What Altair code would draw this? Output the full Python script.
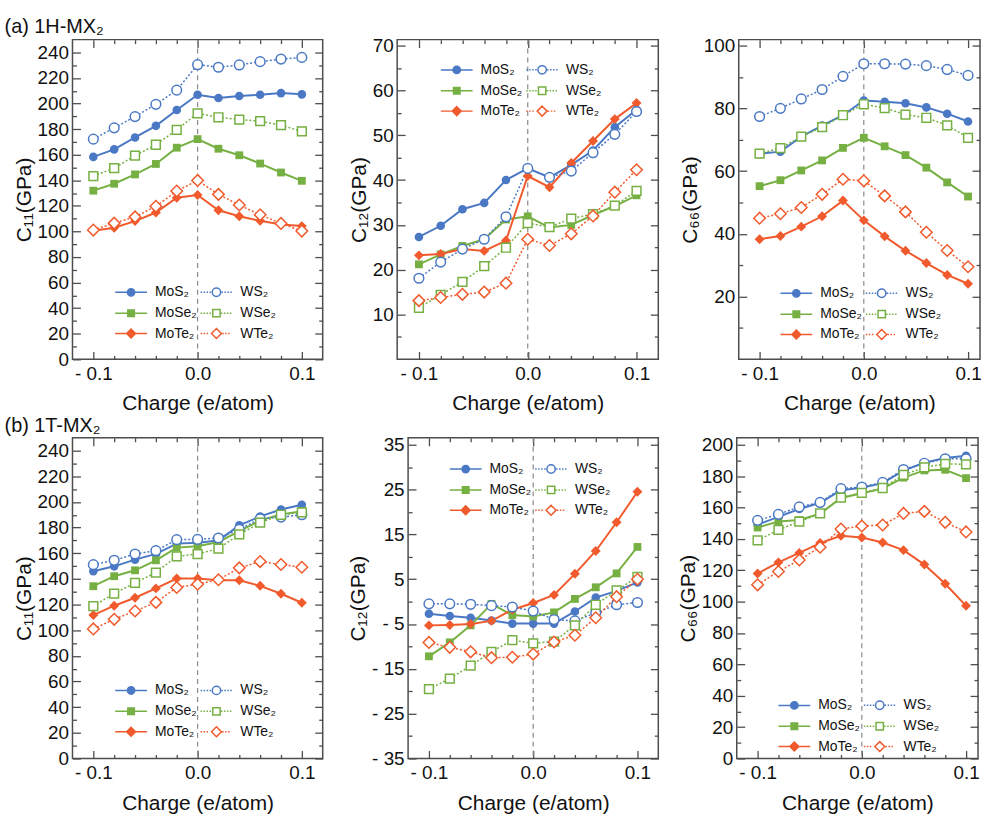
import altair as alt
import pandas as pd

X = [-0.1, -0.08, -0.06, -0.04, -0.02, 0.0, 0.02, 0.04, 0.06, 0.08, 0.1]
X_MAJOR = [-0.1, 0.0, 0.1]
X_MINOR = [-0.08, -0.06, -0.04, -0.02, 0.02, 0.04, 0.06, 0.08]
SERIES = ["MoS2", "WS2", "MoSe2", "WSe2", "MoTe2", "WTe2"]
LABELS = ["MoS₂", "WS₂", "MoSe₂", "WSe₂", "MoTe₂", "WTe₂"]

# (a) 1H-MX2, C11
H11_MoS2 = [158.3, 164.2, 173.5, 182.6, 195.0, 206.9, 204.3, 205.9, 206.9, 208.2, 207.2]
H11_WS2 = [172.2, 181.0, 189.8, 199.4, 210.5, 230.4, 228.4, 230.2, 232.8, 234.8, 236.1]
H11_MoSe2 = [131.9, 137.3, 144.6, 152.8, 165.5, 172.2, 164.7, 159.6, 153.1, 146.1, 139.6]
H11_WSe2 = [143.3, 149.5, 159.3, 167.8, 179.5, 192.4, 189.3, 187.5, 186.2, 183.1, 178.2]
H11_MoTe2 = [100.6, 102.9, 108.1, 114.8, 126.4, 128.5, 116.6, 111.9, 108.3, 105.5, 104.2]
H11_WTe2 = [101.1, 106.5, 111.4, 119.7, 131.6, 139.9, 129.0, 120.7, 113.0, 106.3, 100.3]

# (a) 1H-MX2, C12
H12_MoS2 = [27.3, 29.8, 33.5, 34.9, 40.0, 42.6, 40.6, 43.4, 46.6, 51.8, 55.7]
H12_WS2 = [18.1, 21.7, 24.6, 26.8, 31.8, 42.6, 40.6, 42.0, 46.1, 50.2, 55.3]
H12_MoSe2 = [21.2, 23.4, 25.3, 26.8, 31.2, 31.9, 29.4, 30.0, 32.2, 34.2, 36.6]
H12_WSe2 = [11.5, 14.4, 17.3, 20.8, 24.9, 30.4, 29.5, 31.4, 32.4, 34.3, 37.6]
H12_MoTe2 = [23.2, 23.5, 24.6, 24.2, 26.5, 40.9, 38.4, 43.8, 48.7, 53.6, 57.2]
H12_WTe2 = [13.1, 13.8, 14.5, 15.0, 17.0, 26.8, 25.4, 28.0, 32.0, 37.3, 42.3]

# (a) 1H-MX2, C66
H66_MoS2 = [65.5, 66.2, 71.0, 74.5, 77.8, 82.5, 82.1, 81.6, 80.3, 78.3, 75.8]
H66_WS2 = [77.4, 80.0, 83.0, 86.0, 90.2, 94.2, 94.2, 94.1, 93.6, 92.4, 90.5]
H66_MoSe2 = [55.2, 57.1, 60.2, 63.4, 67.4, 70.6, 67.9, 65.1, 61.1, 56.4, 51.9]
H66_WSe2 = [65.6, 67.3, 71.0, 74.0, 77.8, 81.3, 80.1, 78.0, 77.0, 74.6, 70.6]
H66_MoTe2 = [38.3, 39.3, 42.3, 45.6, 50.6, 44.3, 39.2, 34.6, 30.7, 26.9, 24.1]
H66_WTe2 = [45.0, 46.4, 48.4, 52.6, 57.4, 56.9, 52.1, 47.0, 40.5, 34.7, 29.5]

# (b) 1T-MX2, C11
T11_MoS2 = [146.0, 149.8, 155.0, 159.5, 167.5, 168.2, 170.0, 181.7, 188.7, 194.1, 197.8]
T11_WS2 = [151.1, 154.5, 159.4, 162.0, 170.6, 170.8, 171.9, 178.6, 186.9, 188.2, 190.0]
T11_MoSe2 = [134.3, 142.1, 146.7, 154.5, 164.4, 165.4, 168.8, 177.3, 185.6, 190.3, 192.8]
T11_WSe2 = [118.8, 128.6, 136.9, 144.9, 157.6, 159.4, 163.6, 174.7, 183.8, 190.0, 191.8]
T11_MoTe2 = [111.8, 119.1, 125.3, 132.6, 140.3, 140.3, 139.0, 139.0, 134.6, 128.4, 121.4]
T11_WTe2 = [101.0, 108.5, 115.0, 121.7, 133.3, 135.9, 139.3, 148.6, 153.5, 151.2, 149.1]

# (b) 1T-MX2, C12
T12_MoS2 = [-2.7, -3.2, -3.6, -4.2, -4.9, -4.9, -4.9, -2.2, 0.9, 2.4, 4.3]
T12_WS2 = [-0.5, -0.5, -0.6, -0.9, -1.2, -2.1, -4.0, -4.3, -2.5, -0.7, -0.2]
T12_MoSe2 = [-12.2, -9.1, -5.3, -0.5, -3.0, -3.3, -2.4, 0.6, 3.2, 6.3, 12.2]
T12_WSe2 = [-19.5, -17.2, -14.3, -11.2, -8.6, -9.3, -8.9, -5.3, -0.7, 2.5, 5.5]
T12_MoTe2 = [-5.3, -5.2, -5.0, -4.3, -1.8, -0.3, 1.5, 6.2, 11.3, 17.7, 24.5]
T12_WTe2 = [-9.1, -10.2, -11.2, -12.5, -12.4, -11.7, -9.0, -7.5, -3.6, 1.1, 5.0]

# (b) 1T-MX2, C66
T66_MoS2 = [149.0, 154.0, 159.0, 163.0, 171.0, 172.5, 175.5, 183.5, 188.5, 191.5, 193.0]
T66_WS2 = [151.8, 155.6, 160.4, 163.2, 172.0, 173.0, 176.0, 184.2, 188.2, 191.0, 191.0]
T66_MoSe2 = [147.2, 151.0, 152.0, 156.0, 166.0, 169.0, 172.0, 179.0, 183.6, 184.0, 178.7]
T66_WSe2 = [139.0, 145.7, 151.0, 156.2, 166.3, 169.3, 172.4, 180.8, 185.5, 187.8, 187.5]
T66_MoTe2 = [117.9, 125.0, 131.0, 137.3, 142.0, 140.8, 137.7, 132.8, 123.6, 111.4, 97.3]
T66_WTe2 = [110.7, 119.2, 126.5, 134.7, 146.3, 148.2, 148.8, 156.2, 157.5, 150.5, 144.4]

# ---------------- style ----------------
FONT = "Liberation Sans"
FRAME = "#4d4d4d"
TXT = "#111111"
BLUE, GREEN, RED = "#4a78c4", "#76b043", "#f05a2c"
COLS = [BLUE, BLUE, GREEN, GREEN, RED, RED]
FILLS = [BLUE, "white", GREEN, "white", RED, "white"]

# legend symbol: size 400 -> 10 px per path unit; line spans -1.6..1.6 (32 px)
HALF = 1.6


def marker_path(kind, r):
    if kind == "circle":
        return f"M{r},0A{r},{r} 0 1,1 {-r},0A{r},{r} 0 1,1 {r},0Z"
    if kind == "square":
        return f"M{-r},{-r}L{r},{-r}L{r},{r}L{-r},{r}Z"
    return f"M0,{-r}L{r},0L0,{r}L{-r},0Z"


def dotted(r):
    seg, gap, out = 0.15, 0.15, []
    a = -HALF
    while a + seg <= -r - 0.05:
        out.append(f"M{a:.3f},0H{a + seg:.3f}")
        a += seg + gap
    a = r + 0.08
    while a + seg <= HALF:
        out.append(f"M{a:.3f},0H{a + seg:.3f}")
        a += seg + gap
    return "".join(out)


SOLID = f"M{-HALF},0H{HALF}"
PATHS = [
    SOLID + marker_path("circle", 0.37),
    dotted(0.42) + marker_path("circle", 0.42),
    SOLID + marker_path("square", 0.33),
    dotted(0.37) + marker_path("square", 0.37),
    SOLID + marker_path("diamond", 0.45),
    dotted(0.5) + marker_path("diamond", 0.5),
]
# legend fills column by column: Mo-series in the left column, W-series in the right
LEG_ORDER = [0, 2, 4, 1, 3, 5]
LEG_LABELS = [LABELS[i] for i in LEG_ORDER]
LEG_COLS = [COLS[i] for i in LEG_ORDER]
LEG_FILLS = [FILLS[i] for i in LEG_ORDER]
LEG_PATHS = [PATHS[i] for i in LEG_ORDER]


def neg_expr(fmt):
    return (f"datum.value < 0 ? '- ' + format(-datum.value, '{fmt}') : "
            f"format(datum.value, '{fmt}')")


def panel(data, ydom, ymaj, ymin, ytitle, w, h, xdom, lx, ly, yfmt="d"):
    rows = []
    for s in SERIES:
        for xv, yv in zip(X, data[s]):
            rows.append({"x": xv, "v": yv, "s": s})
    df = pd.DataFrame(rows)
    base = alt.Chart(df)
    xs = alt.Scale(domain=xdom, nice=False, zero=False)
    ys = alt.Scale(domain=ydom, nice=False, zero=False)
    cs = alt.Scale(domain=SERIES, range=COLS)

    com = dict(grid=False, domain=False, tickColor=FRAME, tickWidth=1.3)
    lab = dict(labelFont=FONT, labelFontSize=19, labelColor=TXT)
    tit = dict(titleFont=FONT, titleFontSize=21, titleColor=TXT, titleFontWeight="normal")
    xa_maj = alt.Axis(orient="bottom", values=X_MAJOR, tickSize=8, offset=-8,
                      labelExpr=neg_expr(".1f"), labelPadding=5,
                      title="Charge (e/atom)", titlePadding=10, **lab, **tit, **com)
    xa_min = alt.Axis(orient="bottom", values=X_MINOR, tickSize=4, offset=-4,
                      labels=False, title=None, **com)
    xa_top = alt.Axis(orient="top", values=X_MAJOR, tickSize=8, offset=-8,
                      labels=False, title=None, **com)
    xa_topmin = alt.Axis(orient="top", values=X_MINOR, tickSize=4, offset=-4,
                         labels=False, title=None, **com)
    ya_maj = alt.Axis(orient="left", values=ymaj, tickSize=8, offset=-8,
                      labelExpr=neg_expr(yfmt), labelPadding=4,
                      title=ytitle, titlePadding=3, **lab, **tit, **com)
    ya_min = alt.Axis(orient="left", values=ymin, tickSize=4, offset=-4,
                      labels=False, title=None, **com)
    ya_r = alt.Axis(orient="right", values=ymaj, tickSize=8, offset=-8,
                    labels=False, title=None, **com)
    ya_rmin = alt.Axis(orient="right", values=ymin, tickSize=4, offset=-4,
                       labels=False, title=None, **com)

    def enc(ax, ay):
        return dict(x=alt.X("x:Q", scale=xs, axis=ax),
                    y=alt.Y("v:Q", scale=ys, axis=ay),
                    color=alt.Color("s:N", scale=cs, legend=None))

    rule = alt.Chart(pd.DataFrame({"x": [0.0]})).mark_rule(
        color="#8a8a8a", strokeDash=[5, 4], strokeWidth=1.2
    ).encode(x=alt.X("x:Q", scale=xs, axis=None))

    solid = base.transform_filter(
        alt.FieldOneOfPredicate(field="s", oneOf=["MoS2", "MoSe2", "MoTe2"])
    ).mark_line(strokeWidth=2).encode(**enc(xa_maj, ya_maj))
    dots = base.transform_filter(
        alt.FieldOneOfPredicate(field="s", oneOf=["WS2", "WSe2", "WTe2"])
    ).mark_line(strokeWidth=1.5, strokeDash=[2, 2]).encode(**enc(xa_min, ya_min))

    layers = [rule, solid, dots]
    filled = [("MoS2", "circle", 75, xa_top, ya_r),
              ("MoSe2", "square", 62, xa_topmin, ya_rmin),
              ("MoTe2", "diamond", 100, None, None)]
    for s, shp, sz, ax, ay in filled:
        layers.append(base.transform_filter(alt.datum.s == s).mark_point(
            shape=shp, filled=True, size=sz, opacity=1).encode(**enc(ax, ay)))
    opened = [("WS2", "circle", 95), ("WSe2", "square", 78), ("WTe2", "diamond", 135)]
    for s, shp, sz in opened:
        layers.append(base.transform_filter(alt.datum.s == s).mark_point(
            shape=shp, filled=False, fill="white", strokeWidth=1.5, size=sz,
            opacity=1).encode(**enc(None, None)))

    leg = alt.Legend(orient="none", legendX=lx, legendY=ly, columns=2, title=None,
                     labelFont=FONT, labelFontSize=14, labelColor=TXT,
                     symbolStrokeWidth=1.5, symbolSize=400, symbolOffset=6,
                     padding=0, columnPadding=0, rowPadding=2.5, labelOffset=13)
    legend_layer = alt.Chart(pd.DataFrame({"lab": LEG_LABELS})).transform_filter(
        "false").mark_point(size=400, opacity=1, strokeWidth=1.5).encode(
        shape=alt.Shape("lab:N", scale=alt.Scale(domain=LEG_LABELS, range=LEG_PATHS), legend=leg),
        stroke=alt.Stroke("lab:N", scale=alt.Scale(domain=LEG_LABELS, range=LEG_COLS), legend=leg),
        fill=alt.Fill("lab:N", scale=alt.Scale(domain=LEG_LABELS, range=LEG_FILLS), legend=leg),
    )
    layers.append(legend_layer)
    return alt.layer(*layers).resolve_axis(x="independent", y="independent").properties(
        width=w, height=h)


def d(a, b, c, e, f, g):
    return dict(zip(SERIES, [a, b, c, e, f, g]))


XD = [-0.12, 0.12]
XD66 = [-0.12, 0.1115]

p11a = panel(d(H11_MoS2, H11_WS2, H11_MoSe2, H11_WSe2, H11_MoTe2, H11_WTe2),
             [0, 250], list(range(0, 241, 20)), list(range(10, 241, 20)),
             "C₁₁(GPa)", 252, 322, XD, 42, 243)
p12a = panel(d(H12_MoS2, H12_WS2, H12_MoSe2, H12_WSe2, H12_MoTe2, H12_WTe2),
             [0, 71.33], list(range(10, 71, 10)), list(range(5, 70, 10)),
             "C₁₂(GPa)", 263, 322, XD, 43, 19)
p66a = panel(d(H66_MoS2, H66_WS2, H66_MoSe2, H66_WSe2, H66_MoTe2, H66_WTe2),
             [0, 101.9], list(range(20, 101, 20)), list(range(10, 100, 20)),
             "C₆₆(GPa)", 243, 322, XD66, 41, 244)
p11b = panel(d(T11_MoS2, T11_WS2, T11_MoSe2, T11_WSe2, T11_MoTe2, T11_WTe2),
             [0, 250], list(range(0, 241, 20)), list(range(10, 241, 20)),
             "C₁₁(GPa)", 252, 323, XD, 42, 243)
p12b = panel(d(T12_MoS2, T12_WS2, T12_MoSe2, T12_WSe2, T12_MoTe2, T12_WTe2),
             [-35, 36.55], list(range(-35, 36, 10)), list(range(-30, 31, 10)),
             "C₁₂(GPa)", 252, 323, XD, 41, 20)
p66b = panel(d(T66_MoS2, T66_WS2, T66_MoSe2, T66_WSe2, T66_MoTe2, T66_WTe2),
             [0, 204.4], list(range(0, 201, 20)), list(range(10, 200, 20)),
             "C₆₆(GPa)", 243, 323, XD66, 41, 258)

IND = dict(shape="independent", stroke="independent", fill="independent",
           color="independent")
LIND = dict(shape="independent", stroke="independent", fill="independent")


def row(a, b, c, s1, s2, text):
    inner = alt.hconcat(a, b, spacing=s1).resolve_scale(**IND).resolve_legend(**LIND)
    return alt.hconcat(inner, c, spacing=s2).resolve_scale(**IND).resolve_legend(**LIND).properties(
        title=alt.TitleParams(text=text, anchor="start", font=FONT, fontSize=20,
                              fontWeight="normal", color=TXT, offset=-1, dx=-8))


chart = alt.vconcat(
    row(p11a, p12a, p66a, 23, 18, "(a) 1H-MX₂"),
    row(p11b, p12b, p66b, 22, 16, "(b) 1T-MX₂"),
    spacing=1,
).resolve_scale(**IND).resolve_legend(**LIND).properties(
    padding={"left": 4, "top": 14, "right": 0, "bottom": 0}
).configure_view(stroke=FRAME, strokeWidth=1.5)

chart.save("out.html", embed_options={"renderer": "svg", "actions": False})
